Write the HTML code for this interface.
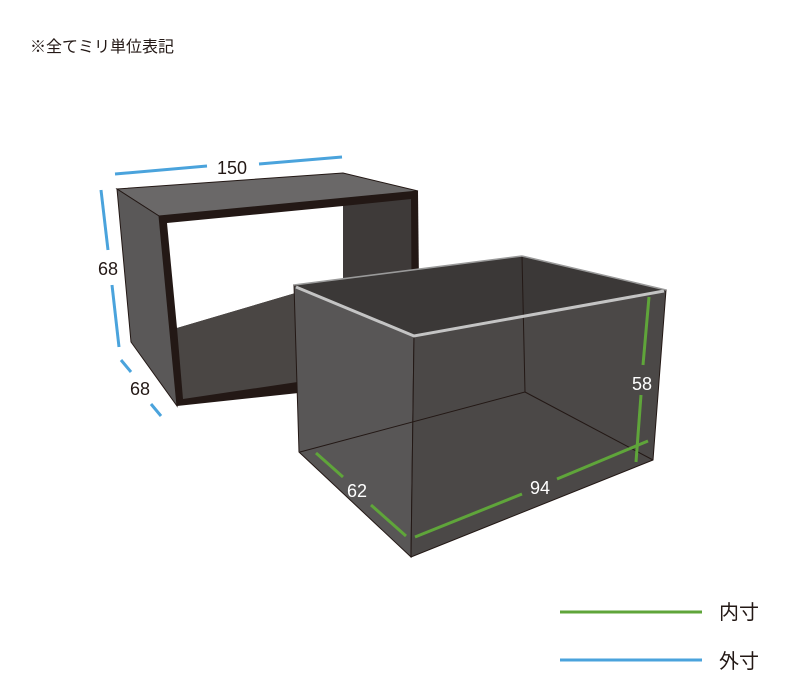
<!DOCTYPE html>
<html><head><meta charset="utf-8"><style>
body{margin:0;background:#fff}
svg{display:block}
text{font-family:"Liberation Sans","Noto Sans CJK JP",sans-serif}
</style></head><body>
<svg width="800" height="700" viewBox="0 0 800 700">
<text x="30" y="52" font-size="16" fill="#231815">※全てミリ単位表記</text>
<!-- shell -->
<polygon points="117,189 343,173 418,191 159,216" fill="#6a6868" stroke="#231815" stroke-width="1"/>
<polygon points="117,189 159,216 177,406 131,342" fill="#5a5858" stroke="#231815" stroke-width="1"/>
<polygon points="159,216 418,191 420,380 177,406" fill="#231815"/>
<polygon points="167,223 343,206 343,279 177,328" fill="#fff"/>
<polygon points="343,206 411,199 412,365 343,279" fill="#3e3a39"/>
<polygon points="177,328 343,279 412,365 183,399" fill="#4a4644"/>
<!-- box -->
<polygon points="294,285 522,256 666,290 414,336" fill="#3b3837"/>
<polygon points="294,285 414,336 411,557 299,452" fill="#585656" stroke="#231815" stroke-width="1"/>
<polygon points="414,336 666,290 653,460 411,557" fill="#4b4847" stroke="#231815" stroke-width="1"/>
<polyline points="522,256 525,392 300,452" fill="none" stroke="#231815" stroke-width="1"/>
<line x1="525" y1="392" x2="653" y2="460" stroke="#231815" stroke-width="1"/>
<polyline points="296,287 414,336 664,291" fill="none" stroke="#c4c4c4" stroke-width="3"/>
<line x1="294" y1="285" x2="522" y2="256" stroke="#9a9a9a" stroke-width="1.5"/>
<line x1="522" y1="256" x2="666" y2="290" stroke="#9a9a9a" stroke-width="1.5"/>
<!-- green -->
<g stroke="#5fa53a" stroke-width="3">
<line x1="316" y1="453" x2="343" y2="477"/><line x1="371" y1="505" x2="406" y2="536"/>
<line x1="415" y1="537" x2="522" y2="494"/><line x1="557" y1="479" x2="648" y2="441"/>
<line x1="649" y1="297" x2="643" y2="365"/><line x1="641" y1="395" x2="636" y2="462"/>
<line x1="560" y1="612" x2="702" y2="612"/>
</g>
<g fill="#fff" font-size="18" text-anchor="middle">
<text x="357" y="497">62</text><text x="540" y="494">94</text><text x="642" y="390">58</text>
</g>
<!-- blue -->
<g stroke="#4aa3dc" stroke-width="3">
<line x1="115" y1="174" x2="207" y2="166"/><line x1="259" y1="164" x2="342" y2="157"/>
<line x1="101" y1="190" x2="108" y2="250"/><line x1="112" y1="285" x2="119" y2="347"/>
<line x1="121" y1="360" x2="131" y2="372"/><line x1="151" y1="404" x2="161" y2="416"/>
<line x1="560" y1="660" x2="702" y2="660"/>
</g>
<g fill="#231815" font-size="18" text-anchor="middle">
<text x="232" y="174">150</text><text x="108" y="275">68</text><text x="140" y="395">68</text>
</g>
<text x="719" y="619" font-size="20" fill="#231815">内寸</text>
<text x="719" y="668" font-size="20" fill="#231815">外寸</text>
</svg>
</body></html>
